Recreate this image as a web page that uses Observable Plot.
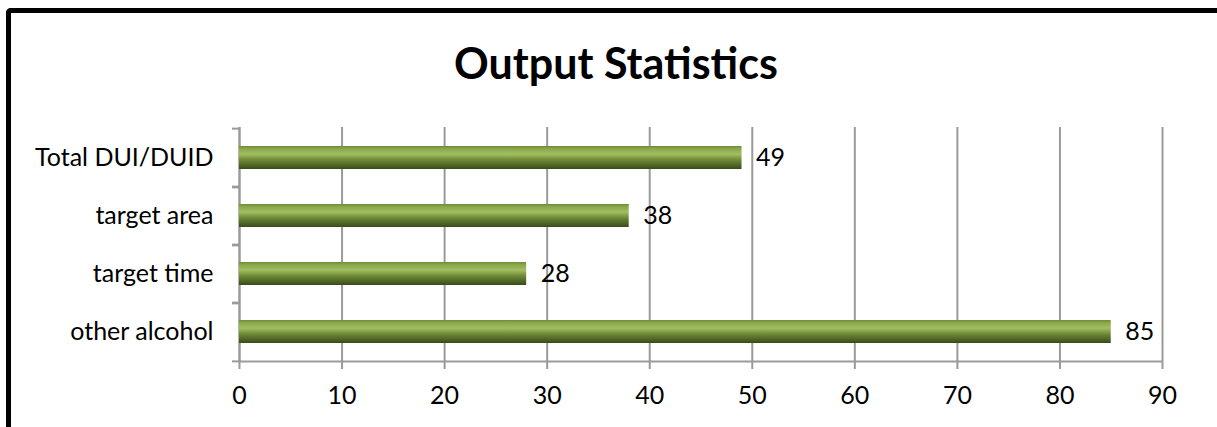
<!DOCTYPE html>
<html>
<head>
<meta charset="utf-8">
<script src="https://cdn.jsdelivr.net/npm/d3@7"></script>
<script src="https://cdn.jsdelivr.net/npm/@observablehq/plot@0.6"></script>
<style>
  html, body { margin: 0; padding: 0; background: #fff; overflow: hidden; }
  #wrap { position: relative; width: 1217px; height: 427px; font-family: Lato, sans-serif; }
  #frame { position: absolute; left: 6px; top: 8px; width: 1300px; height: 500px;
           border-left: 5px solid #000; border-top: 5px solid #000; border-top-left-radius: 5px; }
  #title { position: absolute; left: 0; width: 1232px; top: 37px; text-align: center;
           font-size: 43px; font-weight: bold; color: #000; line-height: 51.6px; white-space: nowrap; }
  #chart { position: absolute; left: 0; top: 0; }
</style>
</head>
<body>
<div id="wrap">
  <div id="frame"></div>
  <div id="chart"></div>
  <div id="title">Output Statistics</div>
</div>
<script>
const categories = ["Total DUI/DUID", "target area", "target time", "other alcohol"];
const values = [49, 38, 28, 85];
const xTicks = [0, 10, 20, 30, 40, 50, 60, 70, 80, 90];

const data = categories.map((c, i) => ({category: c, value: values[i]}));

const gradientDefs = () => {
  const ns = "http://www.w3.org/2000/svg";
  const defs = document.createElementNS(ns, "defs");
  const lg = document.createElementNS(ns, "linearGradient");
  lg.setAttribute("id", "barGrad");
  lg.setAttribute("x1", "0"); lg.setAttribute("y1", "0");
  lg.setAttribute("x2", "0"); lg.setAttribute("y2", "1");
  [[0, "#6f8b34"], [0.12, "#8aa84b"], [0.35, "#a1bf62"], [0.6, "#6e8b36"], [1, "#394a1b"]].forEach(([o, c]) => {
    const s = document.createElementNS(ns, "stop");
    s.setAttribute("offset", o);
    s.setAttribute("stop-color", c);
    lg.appendChild(s);
  });
  defs.appendChild(lg);
  const g = document.createElementNS(ns, "g");
  g.appendChild(defs);
  return g;
};

const W = 1217, H = 427;
const mL = 239, mR = 1217 - 1162, mT = 127, mB = 427 - 362;
const step = (H - mT - mB) / categories.length;

const chart = Plot.plot({
  width: W,
  height: H,
  marginLeft: mL,
  marginRight: mR,
  marginTop: mT,
  marginBottom: mB,
  style: {fontFamily: "Lato, sans-serif", fontSize: "25px", color: "#000", background: "transparent", overflow: "visible"},
  x: {domain: [0, 90], ticks: xTicks},
  y: {domain: categories, paddingInner: 0.6, paddingOuter: 0.3},
  marks: [
    gradientDefs,
    Plot.gridX(xTicks, {stroke: "#9a9a9a", strokeOpacity: 1, strokeWidth: 2}),
    Plot.axisX(xTicks, {tickSize: 7, tickPadding: 17, stroke: "#9a9a9a", strokeWidth: 2, fill: "#000", fontSize: 25, label: null}),
    Plot.axisY({tickSize: 0, tickPadding: 26, fill: "#000", fontSize: 25, label: null}),
    Plot.axisY({tickSize: 7, text: null, dy: step / 2, stroke: "#9a9a9a", strokeWidth: 2, label: null}),
    Plot.axisY({tickSize: 7, text: null, dy: -step / 2, stroke: "#9a9a9a", strokeWidth: 2, label: null}),
    Plot.ruleX([0], {stroke: "#9a9a9a", strokeWidth: 2}),
    Plot.ruleY([categories[categories.length - 1]], {x1: 0, x2: 90, dy: step / 2, stroke: "#9a9a9a", strokeWidth: 2}),
    Plot.barX(data, {x: "value", y: "category", fill: "url(#barGrad)"}),
    Plot.text(data, {x: "value", y: "category", text: d => String(d.value), textAnchor: "start", dx: 14, fill: "#000", fontSize: 25})
  ]
});
document.getElementById("chart").appendChild(chart);
</script>
</body>
</html>
